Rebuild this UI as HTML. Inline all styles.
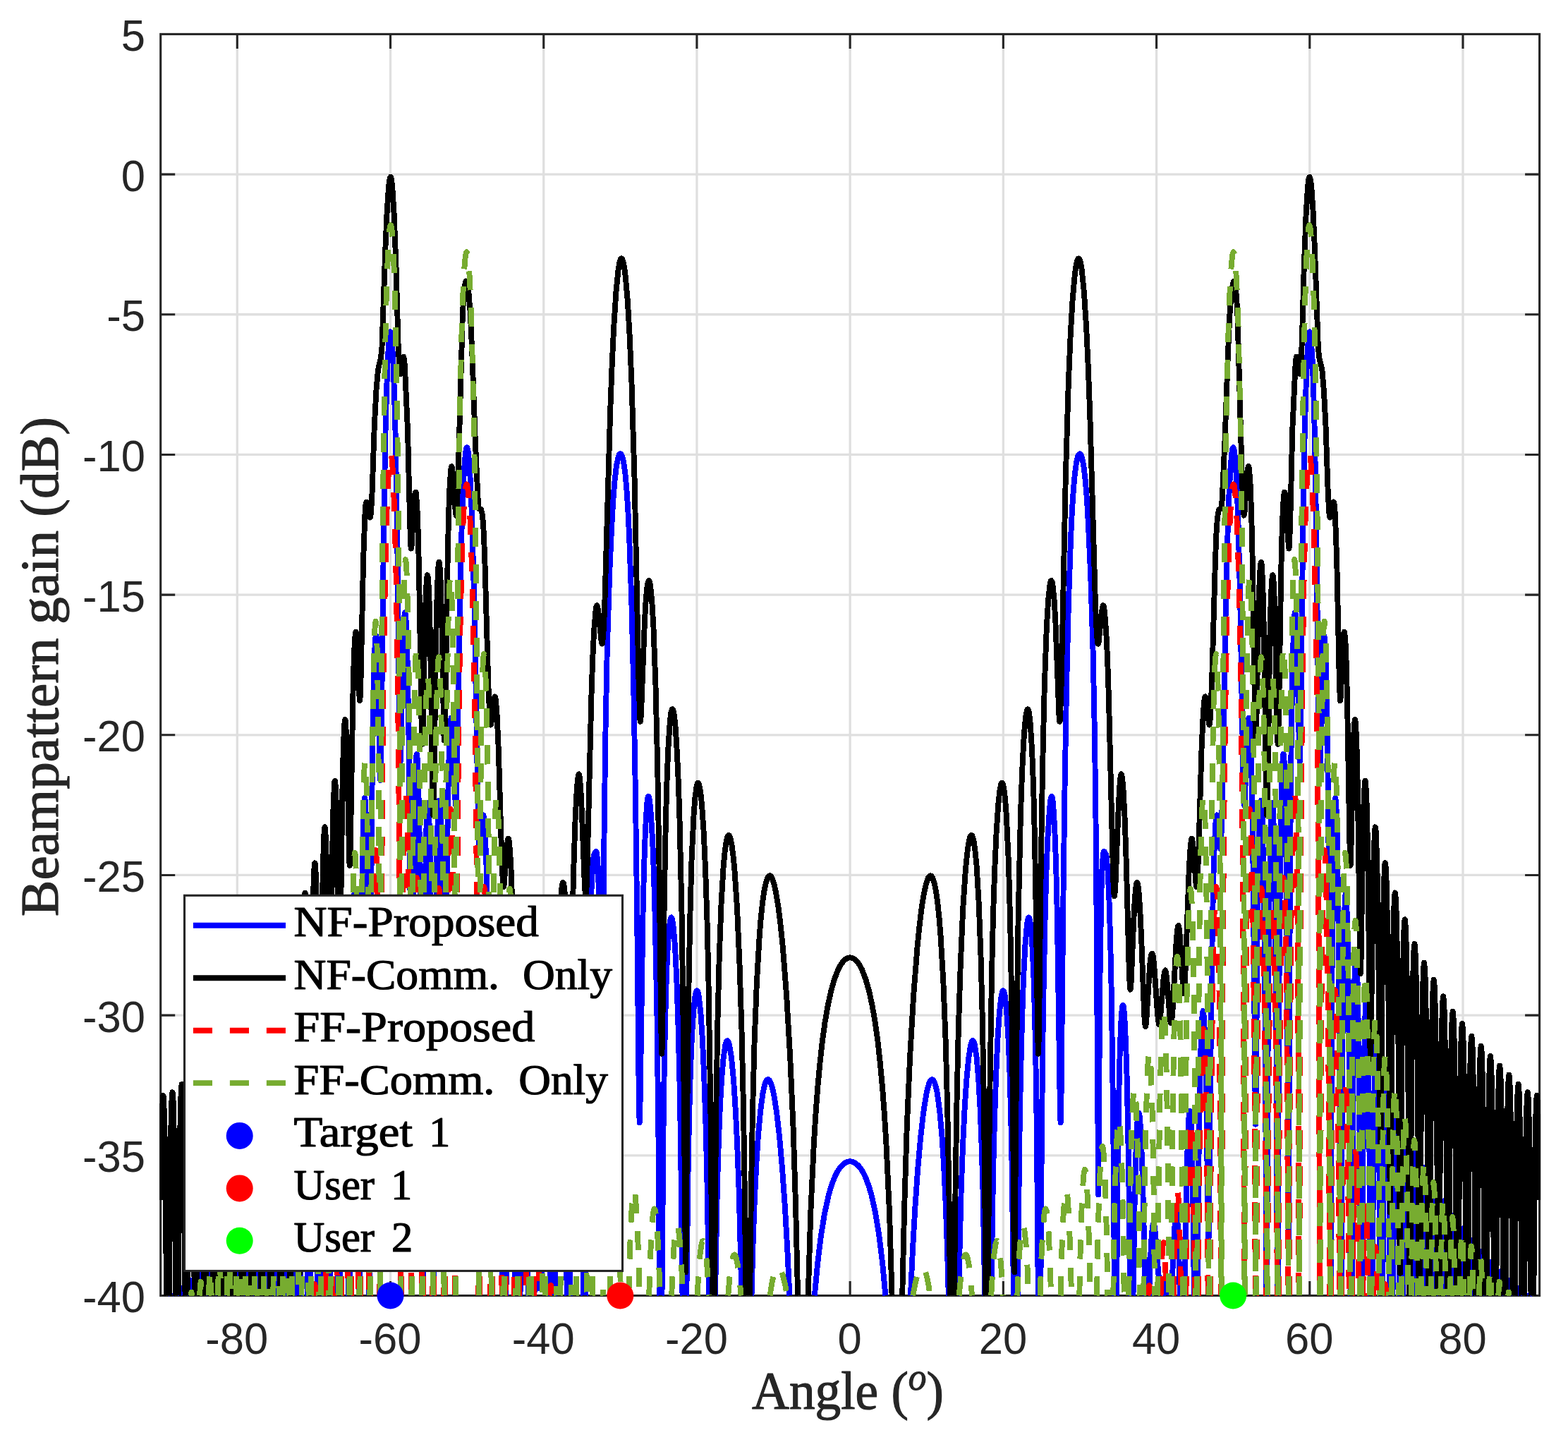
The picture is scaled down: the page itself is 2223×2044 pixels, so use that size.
<!DOCTYPE html>
<html lang="en"><head><meta charset="utf-8"><title>Beampattern gain</title>
<style>html,body{margin:0;padding:0;background:#fff}svg{display:block}</style></head><body>
<svg width="2223" height="2044" viewBox="0 0 2223 2044">
<rect x="0" y="0" width="2223" height="2044" fill="#fff"/>
<path d="M336.31 48.40V1836.50M553.52 48.40V1836.50M770.73 48.40V1836.50M987.94 48.40V1836.50M1205.15 48.40V1836.50M1422.36 48.40V1836.50M1639.57 48.40V1836.50M1856.78 48.40V1836.50M2073.99 48.40V1836.50M227.70 247.08H2182.60M227.70 445.76H2182.60M227.70 644.43H2182.60M227.70 843.11H2182.60M227.70 1041.79H2182.60M227.70 1240.47H2182.60M227.70 1439.14H2182.60M227.70 1637.82H2182.60" stroke="#dfdfdf" stroke-width="3.3" fill="none"/>
<path d="M336.31 1836.50v-20.5M336.31 48.40v20.5M553.52 1836.50v-20.5M553.52 48.40v20.5M770.73 1836.50v-20.5M770.73 48.40v20.5M987.94 1836.50v-20.5M987.94 48.40v20.5M1205.15 1836.50v-20.5M1205.15 48.40v20.5M1422.36 1836.50v-20.5M1422.36 48.40v20.5M1639.57 1836.50v-20.5M1639.57 48.40v20.5M1856.78 1836.50v-20.5M1856.78 48.40v20.5M2073.99 1836.50v-20.5M2073.99 48.40v20.5M227.70 247.08h20.5M2182.60 247.08h-20.5M227.70 445.76h20.5M2182.60 445.76h-20.5M227.70 644.43h20.5M2182.60 644.43h-20.5M227.70 843.11h20.5M2182.60 843.11h-20.5M227.70 1041.79h20.5M2182.60 1041.79h-20.5M227.70 1240.47h20.5M2182.60 1240.47h-20.5M227.70 1439.14h20.5M2182.60 1439.14h-20.5M227.70 1637.82h20.5M2182.60 1637.82h-20.5" stroke="#262626" stroke-width="3.1" fill="none"/>
<rect x="227.70" y="48.40" width="1954.90" height="1788.10" fill="none" stroke="#262626" stroke-width="3.1"/>
<clipPath id="c"><rect x="226.20" y="46.90" width="1957.90" height="1791.10"/></clipPath>
<g clip-path="url(#c)" fill="none" stroke-linejoin="round" stroke-linecap="butt" shape-rendering="crispEdges">
<path stroke="#0000ff" stroke-width="7.9" d="M241.7 1836.5L241.9 1835.9L242.2 1836.5M254.1 1836.5L255.2 1825.4L255.7 1828.0L256.3 1836.5M267.0 1836.5L267.7 1820.4L268.4 1814.0L269.2 1818.9L270.0 1836.5M279.9 1836.5L280.8 1810.6L281.2 1804.3L281.8 1801.7L282.8 1811.3L283.6 1836.5M292.9 1836.5L293.9 1800.7L294.5 1791.6L295.0 1788.3L295.7 1791.8L296.2 1801.1L297.3 1836.5M305.9 1836.5L307.1 1791.0L307.7 1778.3L308.4 1773.8L309.0 1777.5L309.7 1789.5L310.9 1836.5M319.0 1836.5L320.3 1778.7L321.0 1764.3L321.8 1758.1L322.5 1762.9L323.2 1776.0L324.6 1836.5M332.2 1836.5L333.6 1766.6L334.4 1748.2L335.2 1741.0L336.1 1748.1L336.8 1766.5L338.3 1836.5M345.4 1836.5L346.9 1751.5L347.8 1729.5L348.7 1722.3L349.6 1729.3L350.4 1751.1L352.0 1836.5M358.6 1836.5L360.3 1736.8L361.3 1710.1L361.7 1704.2L362.3 1701.9L363.2 1711.6L364.1 1736.1L365.8 1836.5M372.0 1836.5L373.8 1718.7L374.8 1689.8L375.3 1681.9L375.8 1679.4L376.4 1682.4L376.9 1691.0L377.9 1721.4L379.6 1836.5M385.3 1836.5L387.2 1701.5L388.3 1666.6L388.9 1657.9L389.5 1654.6L390.1 1657.8L390.6 1666.5L391.7 1701.9L393.5 1836.5M398.8 1836.5L400.8 1680.7L402.0 1640.0L402.6 1630.9L403.2 1627.0L403.9 1630.8L404.4 1640.0L405.6 1681.4L407.5 1836.5M412.4 1836.5L414.4 1661.3L415.7 1612.2L416.3 1600.3L417.0 1596.2L417.7 1599.5L418.3 1610.7L419.6 1659.2L421.6 1836.5M426.0 1836.5L428.1 1638.1L429.5 1580.2L430.1 1567.0L430.9 1561.2L431.7 1565.6L432.4 1580.5L433.7 1634.3L434.8 1715.4L435.8 1836.5M439.7 1836.5L440.7 1708.2L442.0 1603.8L443.4 1543.1L444.2 1527.0L445.0 1521.1L445.8 1526.7L446.5 1542.8L448.0 1605.2L449.1 1704.8L450.1 1836.5M453.5 1836.5L454.6 1682.8L455.9 1570.2L457.4 1500.0L458.3 1480.7L459.1 1474.6L460.0 1481.3L460.8 1498.4L462.3 1570.1L463.5 1677.8L464.5 1836.5M467.5 1836.5L468.5 1665.4L469.9 1529.9L471.5 1448.9L472.4 1427.7L473.4 1419.3L473.9 1421.6L474.3 1427.0L475.2 1448.2L476.8 1533.6L478.0 1655.5L479.0 1836.5M481.5 1836.5L482.6 1628.6L484.0 1481.0L485.9 1383.4L486.8 1359.7L487.8 1352.0L488.8 1360.0L489.8 1385.1L491.5 1484.4L492.8 1638.5L493.7 1836.5M495.7 1836.5L496.7 1600.2L498.2 1419.5L500.2 1306.0L501.3 1276.7L501.8 1269.4L502.4 1266.9L502.9 1268.9L503.4 1275.0L504.5 1303.3L506.4 1418.8L507.7 1600.0L508.5 1836.5M510.0 1836.5L510.9 1544.6L512.5 1329.1L514.6 1183.0L515.8 1145.4L516.5 1134.8L517.1 1131.1L517.8 1134.2L518.3 1142.3L519.5 1180.0L521.4 1316.7L522.6 1515.8L523.4 1836.5M524.2 1836.5L525.0 1521.0L525.9 1304.8L527.5 1118.2L529.5 980.6L530.6 938.6L531.8 910.9L532.3 904.2L533.0 900.8L533.5 901.9L534.1 906.8L535.1 925.1L536.0 956.8L538.7 1094.1L539.2 1105.1L539.4 1106.0L539.6 1103.4L540.6 1050.0L543.9 763.9L546.3 619.8L548.1 553.1L549.8 507.8L551.7 479.7L552.5 473.0L553.5 470.4L554.4 472.4L555.4 479.8L557.2 508.3L558.9 553.7L560.6 615.0L563.1 754.1L566.3 1026.4L567.3 1076.9L567.5 1079.6L567.7 1079.1L568.2 1069.3L571.0 929.6L572.0 897.2L573.1 875.7L573.6 870.3L574.3 868.3L574.9 871.1L575.5 877.1L576.6 902.2L577.7 940.4L579.7 1055.8L581.3 1226.8L583.7 1767.7L585.3 1385.6L587.1 1187.2L588.4 1114.7L589.8 1076.4L590.6 1069.1L591.0 1068.7L591.4 1070.9L592.9 1099.8L595.0 1200.3L596.6 1359.9L597.7 1555.7L598.5 1836.5M599.5 1836.5L600.5 1525.1L602.0 1323.7L604.0 1188.0L605.3 1149.9L606.0 1140.8L606.6 1137.8L607.3 1140.6L607.9 1149.2L609.2 1185.3L611.4 1318.4L612.9 1511.4L614.3 1836.5M614.9 1836.5L616.0 1565.7L617.2 1381.3L618.8 1242.3L620.7 1159.4L621.9 1138.2L622.6 1134.7L623.2 1136.6L624.5 1157.3L625.7 1198.2L627.5 1306.9L629.8 1562.7L630.4 1593.7L633.7 1233.5L635.2 1130.2L636.8 1062.1L638.7 1023.7L639.6 1017.6L640.1 1017.9L640.6 1020.7L642.5 1050.2L645.4 1132.9L646.0 1141.0L646.3 1141.2L646.4 1140.8L646.7 1137.1L648.0 1090.1L652.1 850.2L654.6 748.3L656.4 698.8L658.1 664.3L660.0 642.4L660.9 636.5L661.9 634.4L662.4 634.9L663.0 636.5L664.0 642.2L665.9 664.6L667.9 702.5L669.8 757.2L672.8 875.0L677.3 1128.4L679.0 1191.1L679.7 1201.9L680.0 1203.0L680.5 1201.8L683.7 1162.0L684.7 1156.1L685.1 1155.5L685.6 1156.2L686.6 1162.7L687.4 1174.5L689.3 1219.4L691.1 1295.4L692.7 1395.4L696.8 1760.8L696.9 1762.8L697.0 1763.4L697.1 1762.6L697.5 1747.0L699.7 1580.1L701.3 1493.9L703.2 1444.3L704.2 1434.3L704.6 1433.0L705.1 1434.1L706.3 1446.1L707.4 1469.1L709.6 1554.6L711.3 1677.1L712.7 1836.5M717.4 1836.5L718.6 1724.9L720.0 1643.6L721.6 1593.1L722.5 1579.9L723.5 1574.8L723.9 1575.6L724.5 1579.2L725.4 1592.7L727.3 1644.0L729.0 1727.0L730.6 1836.5M737.4 1836.5L739.8 1749.3L741.2 1726.3L741.8 1721.3L742.6 1719.5L743.3 1721.2L744.0 1726.5L745.5 1747.0L749.4 1836.5M757.0 1836.5L758.5 1824.7L759.9 1819.3L760.5 1818.7L761.2 1819.2L763.6 1825.0L764.4 1826.1L765.3 1825.2L766.2 1821.6L767.9 1806.0L772.4 1747.7L773.7 1737.7L774.3 1735.2L774.9 1734.4L775.7 1736.0L776.5 1740.3L778.0 1758.1L779.5 1788.2L781.3 1836.5M786.5 1836.5L789.4 1707.9L791.5 1638.3L793.8 1591.7L794.8 1580.9L795.4 1578.2L795.9 1577.4L797.0 1581.5L798.1 1593.6L800.2 1641.8L802.0 1719.6L803.8 1836.5M807.8 1836.5L810.2 1654.1L812.5 1532.6L814.0 1485.2L815.4 1452.3L816.8 1432.3L817.5 1426.8L818.3 1424.8L819.1 1426.4L819.7 1430.9L821.1 1451.0L822.4 1484.2L823.6 1530.2L825.6 1653.5L827.2 1836.5M830.2 1836.5L832.1 1588.3L834.6 1405.8L836.1 1334.5L837.8 1276.3L839.7 1235.8L841.6 1213.8L842.3 1211.1L844.8 1206.9L845.7 1207.8L846.4 1211.6L847.8 1230.7L849.0 1266.7L850.9 1389.6L853.2 1693.5L856.4 1194.2L858.3 1044.9L860.7 923.7L864.2 812.4L867.1 748.6L869.3 708.9L871.6 680.3L874.1 659.4L876.7 647.2L878.0 644.3L879.4 643.2L880.7 644.0L881.9 646.2L884.2 655.3L886.4 671.0L888.3 692.5L890.2 720.5L892.0 757.6L895.3 850.9L898.2 971.4L900.8 1117.4L903.0 1282.2L905.7 1548.3L906.6 1591.5L907.0 1587.0L907.5 1567.0L911.4 1300.1L913.1 1227.9L915.1 1173.6L917.3 1138.2L918.4 1130.7L919.1 1128.9L919.6 1129.0L920.9 1134.2L922.3 1146.6L925.1 1190.5L926.9 1237.4L928.5 1292.7L931.4 1433.9L933.5 1615.3L935.0 1836.5M938.5 1836.5L940.4 1608.1L941.7 1516.5L943.2 1442.1L945.0 1380.4L947.1 1336.2L949.4 1309.3L950.6 1302.6L951.1 1301.1L951.8 1300.5L952.4 1301.2L953.1 1303.2L954.4 1311.0L956.9 1340.2L959.3 1387.4L961.4 1450.4L963.4 1529.3L965.0 1619.0L967.5 1836.5M973.3 1836.5L975.7 1651.4L977.2 1578.4L978.9 1518.0L981.0 1467.8L983.2 1433.1L985.5 1411.5L986.7 1406.2L987.4 1404.7L988.0 1404.3L988.7 1404.7L989.4 1406.1L990.7 1411.8L993.3 1434.4L995.8 1471.3L998.1 1522.8L1000.3 1587.3L1002.2 1660.4L1005.1 1836.5M1014.0 1836.5L1016.9 1682.4L1018.8 1620.6L1020.8 1569.8L1023.2 1527.9L1025.7 1498.9L1028.4 1481.0L1029.9 1476.5L1030.5 1475.5L1031.3 1475.1L1032.7 1476.7L1034.2 1481.5L1037.1 1500.2L1040.1 1531.7L1042.8 1573.6L1045.3 1625.1L1047.6 1686.2L1051.4 1836.5M1065.5 1836.5L1067.4 1767.4L1069.7 1704.2L1072.2 1652.1L1075.0 1608.5L1078.1 1574.9L1081.4 1550.1L1083.2 1541.5L1085.0 1535.1L1086.9 1531.4L1087.9 1530.4L1088.8 1530.1L1089.8 1530.4L1090.8 1531.3L1092.9 1535.3L1094.9 1541.8L1097.0 1550.9L1101.1 1576.7L1105.2 1612.7L1109.1 1657.2L1112.8 1709.8L1116.2 1768.7L1119.4 1836.5M1154.9 1836.5L1159.1 1791.1L1163.8 1752.5L1169.0 1720.3L1174.8 1693.9L1178.0 1683.0L1181.4 1673.4L1184.9 1665.1L1188.6 1658.4L1192.6 1653.1L1196.7 1649.3L1200.9 1646.9L1205.2 1646.2L1209.4 1646.9L1213.6 1649.3L1217.7 1653.1L1221.7 1658.4L1225.4 1665.1L1228.9 1673.4L1232.3 1683.0L1235.5 1693.9L1241.3 1720.3L1246.5 1752.5L1251.2 1791.1L1255.4 1836.5M1290.9 1836.5L1294.1 1768.7L1297.5 1709.8L1301.2 1657.2L1305.1 1612.7L1309.2 1576.7L1313.3 1550.9L1315.4 1541.8L1317.4 1535.3L1319.5 1531.3L1320.5 1530.4L1321.5 1530.1L1322.4 1530.4L1323.4 1531.4L1325.3 1535.1L1327.1 1541.5L1328.9 1550.1L1332.2 1574.9L1335.3 1608.5L1338.1 1652.1L1340.6 1704.2L1342.9 1767.4L1344.8 1836.5M1358.9 1836.5L1362.7 1686.2L1365.0 1625.1L1367.5 1573.6L1370.2 1531.7L1373.2 1500.2L1376.1 1481.5L1377.6 1476.7L1379.0 1475.1L1379.8 1475.5L1380.4 1476.5L1381.9 1481.0L1384.6 1498.9L1387.1 1527.9L1389.5 1569.8L1391.5 1620.6L1393.4 1682.4L1396.3 1836.5M1405.2 1836.5L1408.1 1660.4L1410.0 1587.3L1412.2 1522.8L1414.5 1471.3L1417.0 1434.4L1419.6 1411.8L1420.9 1406.1L1421.6 1404.7L1422.3 1404.3L1422.9 1404.7L1423.6 1406.2L1424.8 1411.5L1427.1 1433.1L1429.3 1467.8L1431.4 1518.0L1433.1 1578.4L1434.6 1651.4L1437.0 1836.5M1442.8 1836.5L1445.3 1619.0L1446.9 1529.3L1448.9 1450.4L1451.0 1387.4L1453.4 1340.2L1455.9 1311.0L1457.2 1303.2L1457.9 1301.2L1458.5 1300.5L1459.2 1301.1L1459.7 1302.6L1460.9 1309.3L1463.2 1336.2L1465.3 1380.4L1467.1 1442.1L1468.6 1516.5L1469.9 1608.1L1471.8 1836.5M1475.3 1836.5L1476.8 1615.3L1478.9 1433.9L1481.8 1292.7L1483.4 1237.4L1485.2 1190.5L1488.0 1146.6L1489.4 1134.2L1490.7 1129.0L1491.2 1128.9L1491.9 1130.7L1493.0 1138.2L1495.2 1173.6L1497.2 1227.9L1498.9 1300.1L1502.8 1567.0L1503.3 1587.0L1503.7 1591.5L1504.6 1548.3L1507.3 1282.2L1509.5 1117.4L1512.1 971.4L1515.0 850.9L1518.3 757.6L1520.1 720.5L1522.0 692.5L1523.9 671.0L1526.1 655.3L1528.4 646.2L1529.6 644.0L1530.9 643.2L1532.3 644.3L1533.6 647.2L1536.2 659.4L1538.7 680.3L1541.0 708.9L1543.2 748.6L1546.1 812.4L1549.6 923.7L1552.0 1044.9L1553.9 1194.2L1557.1 1693.5L1559.4 1389.6L1561.3 1266.7L1562.5 1230.7L1563.9 1211.6L1564.6 1207.8L1565.5 1206.9L1568.0 1211.1L1568.7 1213.8L1570.6 1235.8L1572.5 1276.3L1574.2 1334.5L1575.7 1405.8L1578.2 1588.3L1580.1 1836.5M1583.1 1836.5L1584.7 1653.5L1586.7 1530.2L1587.9 1484.2L1589.2 1451.0L1590.6 1430.9L1591.2 1426.4L1592.0 1424.8L1592.8 1426.8L1593.5 1432.3L1594.9 1452.3L1596.3 1485.2L1597.8 1532.6L1600.1 1654.1L1602.5 1836.5M1606.5 1836.5L1608.3 1719.6L1610.1 1641.8L1612.2 1593.6L1613.3 1581.5L1614.4 1577.4L1614.9 1578.2L1615.5 1580.9L1616.5 1591.7L1618.8 1638.3L1620.9 1707.9L1623.8 1836.5M1629.0 1836.5L1630.8 1788.2L1632.3 1758.1L1633.8 1740.3L1634.6 1736.0L1635.4 1734.4L1636.0 1735.2L1636.6 1737.7L1637.9 1747.7L1642.4 1806.0L1644.1 1821.6L1645.0 1825.2L1645.9 1826.1L1646.7 1825.0L1649.1 1819.2L1649.8 1818.7L1650.4 1819.3L1651.8 1824.7L1653.3 1836.5M1660.9 1836.5L1664.8 1747.0L1666.3 1726.5L1667.0 1721.2L1667.7 1719.5L1668.5 1721.3L1669.1 1726.3L1670.5 1749.3L1672.9 1836.5M1679.7 1836.5L1681.3 1727.0L1683.0 1644.0L1684.9 1592.7L1685.8 1579.2L1686.4 1575.6L1686.8 1574.8L1687.8 1579.9L1688.7 1593.1L1690.3 1643.6L1691.7 1724.9L1692.9 1836.5M1697.6 1836.5L1699.0 1677.1L1700.7 1554.6L1702.9 1469.1L1704.0 1446.1L1705.2 1434.1L1705.7 1433.0L1706.1 1434.3L1707.1 1444.3L1709.0 1493.9L1710.6 1580.1L1712.8 1747.0L1713.2 1762.6L1713.3 1763.4L1713.4 1762.8L1713.5 1760.8L1717.6 1395.4L1719.2 1295.4L1721.0 1219.4L1722.9 1174.5L1723.7 1162.7L1724.7 1156.2L1725.2 1155.5L1725.6 1156.1L1726.6 1162.0L1729.8 1201.8L1730.3 1203.0L1730.6 1201.9L1731.3 1191.1L1733.0 1128.4L1737.5 875.0L1740.5 757.2L1742.4 702.5L1744.4 664.6L1746.3 642.2L1747.3 636.5L1747.9 634.9L1748.4 634.4L1749.4 636.5L1750.3 642.4L1752.2 664.3L1753.9 698.8L1755.7 748.3L1758.2 850.2L1762.3 1090.1L1763.6 1137.1L1763.9 1140.8L1764.0 1141.2L1764.3 1141.0L1764.9 1132.9L1767.8 1050.2L1769.7 1020.7L1770.2 1017.9L1770.7 1017.6L1771.6 1023.7L1773.5 1062.1L1775.1 1130.2L1776.6 1233.5L1779.9 1593.7L1780.5 1562.7L1782.8 1306.9L1784.6 1198.2L1785.8 1157.3L1787.1 1136.6L1787.7 1134.7L1788.4 1138.2L1789.6 1159.4L1791.5 1242.3L1793.1 1381.3L1794.3 1565.7L1795.4 1836.5M1796.0 1836.5L1797.4 1511.4L1798.9 1318.4L1801.1 1185.3L1802.4 1149.2L1803.0 1140.6L1803.7 1137.8L1804.3 1140.8L1805.0 1149.9L1806.3 1188.0L1808.3 1323.7L1809.8 1525.1L1810.8 1836.5M1811.8 1836.5L1812.6 1555.7L1813.7 1359.9L1815.3 1200.3L1817.4 1099.8L1818.9 1070.9L1819.3 1068.7L1819.7 1069.1L1820.5 1076.4L1821.9 1114.7L1823.2 1187.2L1825.0 1385.6L1826.6 1767.7L1829.0 1226.8L1830.6 1055.8L1832.6 940.4L1833.7 902.2L1834.8 877.1L1835.4 871.1L1836.0 868.3L1836.7 870.3L1837.2 875.7L1838.3 897.2L1839.3 929.6L1842.1 1069.3L1842.6 1079.1L1842.8 1079.6L1843.0 1076.9L1844.0 1026.4L1847.2 754.1L1849.7 615.0L1851.4 553.7L1853.1 508.3L1854.9 479.8L1855.9 472.4L1856.8 470.4L1857.8 473.0L1858.6 479.7L1860.5 507.8L1862.2 553.1L1864.0 619.8L1866.4 763.9L1869.7 1050.0L1870.7 1103.4L1870.9 1106.0L1871.1 1105.1L1871.6 1094.1L1874.3 956.8L1875.2 925.1L1876.2 906.8L1876.8 901.9L1877.3 900.8L1878.0 904.2L1878.5 910.9L1879.7 938.6L1880.8 980.6L1882.8 1118.2L1884.4 1304.8L1885.3 1521.0L1886.1 1836.5M1886.9 1836.5L1887.7 1515.8L1888.9 1316.7L1890.8 1180.0L1892.0 1142.3L1892.5 1134.2L1893.2 1131.1L1893.8 1134.8L1894.5 1145.4L1895.7 1183.0L1897.8 1329.1L1899.4 1544.6L1900.3 1836.5M1901.8 1836.5L1902.6 1600.0L1903.9 1418.8L1905.8 1303.3L1906.9 1275.0L1907.4 1268.9L1907.9 1266.9L1908.5 1269.4L1909.0 1276.7L1910.1 1306.0L1912.1 1419.5L1913.6 1600.2L1914.6 1836.5M1916.6 1836.5L1917.5 1638.5L1918.8 1484.4L1920.5 1385.1L1921.5 1360.0L1922.5 1352.0L1923.5 1359.7L1924.4 1383.4L1926.3 1481.0L1927.7 1628.6L1928.8 1836.5M1931.3 1836.5L1932.3 1655.5L1933.5 1533.6L1935.1 1448.2L1936.0 1427.0L1936.4 1421.6L1936.9 1419.3L1937.9 1427.7L1938.8 1448.9L1940.4 1529.9L1941.8 1665.4L1942.8 1836.5M1945.8 1836.5L1946.8 1677.8L1948.0 1570.1L1949.5 1498.4L1950.3 1481.3L1951.2 1474.6L1952.0 1480.7L1952.9 1500.0L1954.4 1570.2L1955.7 1682.8L1956.8 1836.5M1960.2 1836.5L1961.2 1704.8L1962.3 1605.2L1963.8 1542.8L1964.5 1526.7L1965.3 1521.1L1966.1 1527.0L1966.9 1543.1L1968.3 1603.8L1969.6 1708.2L1970.6 1836.5M1974.5 1836.5L1975.5 1715.4L1976.6 1634.3L1977.9 1580.5L1978.6 1565.6L1979.4 1561.2L1980.2 1567.0L1980.8 1580.2L1982.2 1638.1L1984.3 1836.5M1988.7 1836.5L1990.7 1659.2L1992.0 1610.7L1992.6 1599.5L1993.3 1596.2L1994.0 1600.3L1994.6 1612.2L1995.9 1661.3L1997.9 1836.5M2002.8 1836.5L2004.7 1681.4L2005.9 1640.0L2006.4 1630.8L2007.1 1627.0L2007.7 1630.9L2008.3 1640.0L2009.5 1680.7L2011.5 1836.5M2016.8 1836.5L2018.6 1701.9L2019.7 1666.5L2020.2 1657.8L2020.8 1654.6L2021.4 1657.9L2022.0 1666.6L2023.1 1701.5L2025.0 1836.5M2030.7 1836.5L2032.4 1721.4L2033.4 1691.0L2033.9 1682.4L2034.5 1679.4L2035.0 1681.9L2035.5 1689.8L2036.5 1718.7L2038.3 1836.5M2044.5 1836.5L2046.2 1736.1L2047.1 1711.6L2048.0 1701.9L2048.6 1704.2L2049.0 1710.1L2050.0 1736.8L2051.7 1836.5M2058.3 1836.5L2059.9 1751.1L2060.7 1729.3L2061.6 1722.3L2062.5 1729.5L2063.4 1751.5L2064.9 1836.5M2072.0 1836.5L2073.5 1766.5L2074.2 1748.1L2075.1 1741.0L2075.9 1748.2L2076.7 1766.6L2078.1 1836.5M2085.7 1836.5L2087.1 1776.0L2087.8 1762.9L2088.5 1758.1L2089.3 1764.3L2090.0 1778.7L2091.3 1836.5M2099.4 1836.5L2100.6 1789.5L2101.3 1777.5L2101.9 1773.8L2102.6 1778.3L2103.2 1791.0L2104.4 1836.5M2113.0 1836.5L2114.1 1801.1L2114.6 1791.8L2115.3 1788.3L2115.8 1791.6L2116.4 1800.7L2117.4 1836.5M2126.7 1836.5L2127.5 1811.3L2128.5 1801.7L2129.1 1804.3L2129.5 1810.6L2130.4 1836.5M2140.3 1836.5L2141.1 1818.9L2141.9 1814.0L2142.6 1820.4L2143.3 1836.5M2154.0 1836.5L2154.6 1828.0L2155.1 1825.4L2156.2 1836.5M2168.1 1836.5L2168.4 1835.9L2168.6 1836.5"/>
<path stroke="#000000" stroke-width="7.9" d="M227.7 1700.9L228.7 1625.9L229.8 1576.4L231.0 1553.8L231.3 1552.7L231.6 1553.6L232.2 1559.8L233.2 1590.9L234.3 1651.3L236.0 1836.5M239.8 1836.5L240.7 1711.2L241.8 1624.5L243.1 1567.5L243.8 1553.6L244.5 1548.3L245.3 1554.2L245.9 1568.8L247.2 1627.7L249.2 1836.5M252.9 1836.5L253.9 1704.5L255.0 1615.9L256.3 1557.6L256.9 1543.1L257.7 1537.0L258.4 1542.3L259.1 1556.1L260.4 1613.3L261.6 1713.0L262.5 1836.5M266.0 1836.5L266.9 1707.9L268.1 1605.6L269.4 1545.6L270.2 1528.7L270.9 1523.5L271.7 1529.6L272.4 1547.5L273.7 1610.2L275.7 1836.5M279.1 1836.5L280.0 1701.7L281.2 1596.7L282.5 1534.7L283.3 1516.8L284.1 1510.6L284.8 1515.6L285.6 1532.3L286.9 1592.4L288.1 1695.8L289.0 1836.5M292.3 1836.5L293.2 1697.9L294.4 1588.9L295.8 1520.6L296.6 1503.0L297.3 1497.0L298.1 1502.2L298.8 1519.1L300.2 1586.4L301.4 1695.3L302.3 1836.5M305.5 1836.5L306.4 1683.6L307.6 1575.0L309.0 1506.6L309.8 1488.9L310.6 1482.8L311.4 1489.5L312.2 1507.8L313.6 1578.2L314.8 1691.2L315.7 1836.5M318.7 1836.5L319.7 1673.5L320.9 1563.7L322.3 1494.1L323.1 1475.7L323.9 1468.7L324.8 1476.1L325.6 1495.1L327.0 1566.8L328.2 1681.3L329.1 1836.5M331.9 1836.5L332.8 1678.8L334.1 1551.8L335.7 1475.9L336.4 1457.8L337.3 1451.1L338.2 1458.8L338.9 1477.8L340.4 1557.5L341.6 1677.4L342.5 1836.5M345.2 1836.5L346.2 1662.1L347.4 1543.6L348.9 1463.0L349.8 1441.1L350.6 1433.8L351.5 1440.8L352.4 1462.6L353.9 1544.0L355.1 1665.8L356.1 1836.5M358.5 1836.5L359.4 1663.2L360.7 1527.4L362.4 1440.5L363.2 1419.1L364.1 1412.3L365.0 1419.4L365.8 1441.3L367.4 1522.3L368.7 1657.3L369.7 1836.5M371.8 1836.5L372.9 1640.0L374.2 1505.2L375.8 1418.1L376.7 1396.2L377.6 1388.7L378.4 1395.1L379.3 1415.9L380.9 1502.1L382.2 1637.7L383.3 1836.5M385.2 1836.5L386.3 1639.2L387.7 1486.7L389.3 1396.9L390.2 1373.7L391.2 1364.5L391.7 1366.8L392.1 1372.6L393.0 1395.0L394.6 1484.1L395.9 1621.9L397.1 1836.5M398.7 1836.5L399.8 1615.8L401.1 1472.8L402.9 1373.0L403.9 1346.7L404.8 1338.0L405.4 1340.4L405.8 1346.1L406.7 1368.2L408.4 1464.0L409.7 1603.8L411.1 1836.5M412.1 1836.5L413.3 1611.2L414.6 1458.2L416.2 1353.2L417.1 1322.8L418.0 1306.7L418.5 1303.4L419.1 1305.1L420.0 1321.4L421.9 1405.6L423.2 1524.2L425.3 1804.7L425.7 1785.0L427.3 1534.7L428.6 1400.7L430.2 1307.0L431.1 1280.4L432.1 1266.6L432.4 1265.6L432.6 1265.9L433.1 1268.9L433.9 1284.8L435.7 1361.4L439.2 1718.7L439.7 1688.8L441.3 1469.6L442.6 1348.0L444.3 1260.9L445.1 1236.3L446.0 1224.6L446.4 1223.3L446.9 1225.1L447.7 1238.0L449.4 1299.2L450.8 1401.6L452.6 1599.0L453.2 1623.0L453.8 1586.8L456.6 1295.7L458.1 1219.4L459.6 1178.9L460.0 1174.1L460.6 1172.3L461.4 1178.9L463.2 1229.3L467.2 1512.1L467.9 1483.2L471.2 1203.7L472.6 1141.0L474.1 1109.7L474.5 1107.4L474.9 1106.7L475.6 1112.1L477.2 1148.7L478.6 1216.5L480.6 1356.0L481.5 1379.9L482.4 1345.8L485.5 1115.4L486.8 1059.6L488.1 1028.5L488.9 1020.9L489.3 1019.9L489.7 1020.9L491.1 1041.5L492.5 1089.1L495.0 1210.7L495.5 1224.9L495.8 1226.9L496.1 1225.1L497.0 1189.0L500.4 985.3L501.6 939.1L502.9 907.9L504.2 895.7L504.5 895.6L504.9 896.4L505.6 902.3L506.9 924.5L509.3 984.7L510.0 992.9L510.2 993.4L510.3 993.0L510.5 991.2L511.6 959.6L515.1 793.4L517.4 729.9L518.4 716.1L519.5 711.5L520.3 713.1L522.2 725.4L524.1 732.9L524.7 733.5L525.3 732.3L526.1 725.5L527.6 697.2L530.8 603.2L533.4 553.9L535.8 525.9L537.0 518.8L539.8 508.4L541.4 494.0L546.2 356.6L548.6 300.8L551.1 264.0L552.4 254.3L553.1 251.9L553.7 250.9L554.4 251.7L555.0 254.3L556.2 263.9L558.7 304.2L561.6 380.2L564.5 485.3L566.1 519.7L567.1 528.6L567.6 530.1L568.2 529.8L569.0 525.8L571.2 508.5L572.2 505.5L573.2 509.9L574.0 522.0L578.0 609.2L581.2 742.8L582.4 773.9L582.9 777.6L583.6 773.2L586.4 718.8L587.9 701.4L588.8 697.9L589.4 697.7L589.7 698.4L591.2 714.9L592.6 750.5L593.9 802.2L597.4 1016.6L598.4 1053.1L598.6 1054.8L598.9 1052.5L599.5 1037.2L602.1 903.1L603.8 842.1L604.7 825.0L605.5 816.4L606.0 815.2L606.5 816.6L607.4 825.5L608.7 855.0L610.0 906.0L613.2 1124.7L614.1 1155.4L615.1 1122.4L618.4 894.7L619.7 840.5L621.0 808.6L621.8 798.5L622.3 796.7L622.8 797.4L623.8 806.9L624.8 827.2L626.5 891.1L629.1 1031.0L629.6 1047.2L629.9 1049.6L630.1 1049.4L631.2 1010.6L634.8 783.9L636.2 726.4L637.6 688.3L639.2 665.2L640.0 661.4L640.4 661.0L640.8 661.9L642.5 675.6L645.8 726.8L646.7 730.7L647.5 725.9L649.4 679.3L655.8 448.2L657.1 423.8L658.4 408.2L659.8 399.9L660.6 398.6L661.4 399.2L662.6 403.8L664.7 417.6L666.9 445.8L669.3 500.1L673.9 627.1L677.7 709.3L678.8 720.3L679.7 721.7L681.3 721.6L682.0 722.1L683.4 727.1L684.7 738.7L685.9 757.1L687.5 799.9L692.3 969.7L694.4 1017.9L695.4 1026.6L695.8 1027.5L696.3 1026.3L699.9 993.9L700.7 989.4L701.4 987.5L702.2 988.6L703.0 993.0L704.5 1011.5L706.8 1062.8L711.2 1213.1L712.9 1251.3L713.7 1256.8L713.9 1257.0L714.1 1256.7L714.6 1254.6L719.0 1196.5L720.3 1189.2L720.7 1188.7L721.0 1189.0L721.5 1190.8L723.0 1205.5L724.6 1233.1L729.5 1371.7L731.3 1405.0L731.7 1407.9L732.2 1408.4L733.0 1403.0L737.6 1325.5L738.9 1313.8L739.4 1312.1L740.1 1312.6L741.3 1319.1L742.5 1332.3L747.8 1431.7L749.0 1445.9L750.1 1450.5L751.0 1448.3L751.9 1440.6L756.3 1385.0L757.3 1378.0L758.2 1375.5L758.9 1376.3L759.5 1378.8L761.0 1389.3L765.6 1446.4L766.6 1451.8L767.1 1452.3L767.6 1451.3L769.3 1436.3L774.1 1367.4L775.6 1355.4L776.4 1352.4L777.1 1351.6L777.9 1352.7L778.7 1355.8L780.1 1367.3L785.0 1445.6L785.8 1453.8L786.3 1455.2L786.7 1454.5L787.6 1446.5L788.5 1428.2L792.1 1331.0L794.1 1288.5L796.0 1261.7L797.1 1253.8L798.1 1250.9L798.5 1251.0L799.0 1251.9L799.8 1256.3L801.5 1274.5L803.2 1307.9L806.5 1389.1L807.3 1401.0L807.8 1402.7L808.1 1401.8L808.8 1392.0L809.7 1369.2L813.4 1227.5L815.6 1161.3L817.9 1117.0L819.1 1104.0L820.3 1097.9L820.7 1097.4L821.0 1097.7L821.8 1101.2L823.4 1120.4L825.1 1156.2L828.8 1252.6L829.9 1268.6L830.4 1270.3L830.8 1268.8L831.7 1255.5L832.6 1225.8L838.4 987.7L840.2 934.0L842.1 895.0L844.3 867.1L845.3 860.2L845.9 858.5L846.4 858.2L847.4 860.9L848.5 868.2L852.7 910.4L853.4 912.6L853.9 912.1L855.1 903.1L856.3 881.8L857.6 846.0L865.2 582.3L867.6 518.8L870.1 465.5L873.4 414.2L876.6 382.0L878.2 372.5L880.0 367.2L880.9 366.4L881.7 366.7L883.4 370.3L885.0 378.2L886.6 390.3L889.8 426.4L892.7 476.7L895.5 543.0L899.6 680.0L905.6 969.3L907.4 1020.0L907.7 1022.5L907.9 1022.8L908.1 1022.1L908.9 1012.8L913.9 881.6L915.7 850.1L917.6 831.2L918.6 825.4L919.8 823.0L920.4 823.3L920.9 824.6L922.0 829.8L924.2 851.1L926.4 887.5L929.5 972.0L932.2 1086.0L934.5 1227.2L937.2 1453.3L938.1 1492.8L938.3 1493.7L938.5 1490.8L939.1 1468.8L941.6 1288.4L943.3 1190.8L945.1 1117.9L947.2 1063.1L949.9 1021.4L951.3 1010.3L952.9 1005.3L953.6 1005.2L954.4 1006.7L956.0 1015.2L957.5 1029.6L959.0 1050.8L961.2 1094.1L963.3 1152.6L966.7 1302.2L968.9 1472.7L972.0 1803.4L972.6 1773.5L974.6 1545.8L976.1 1418.4L978.1 1308.7L980.4 1222.0L983.6 1154.1L985.3 1131.8L987.2 1117.1L988.2 1112.5L989.1 1110.1L989.6 1109.7L990.1 1109.8L991.1 1111.6L993.0 1121.5L995.0 1139.8L997.6 1178.2L1000.1 1232.6L1002.4 1301.6L1004.3 1381.4L1007.5 1581.4L1009.7 1836.5M1012.9 1836.5L1014.1 1678.8L1015.6 1550.6L1017.5 1444.5L1019.8 1354.6L1022.6 1280.2L1025.7 1227.7L1027.5 1208.6L1029.3 1194.8L1031.2 1186.7L1032.1 1184.6L1033.1 1183.9L1034.1 1184.6L1035.2 1187.0L1037.2 1196.1L1039.3 1211.3L1041.3 1231.4L1045.1 1288.4L1048.5 1366.2L1051.5 1459.7L1053.9 1566.2L1055.8 1689.2L1057.4 1836.5M1063.2 1836.5L1064.8 1696.9L1067.0 1575.4L1069.6 1476.6L1072.9 1392.5L1076.7 1327.1L1078.7 1301.6L1081.0 1279.8L1083.4 1262.9L1085.9 1250.9L1088.5 1243.6L1089.8 1241.8L1091.2 1241.2L1092.7 1242.0L1094.3 1244.1L1097.3 1252.6L1100.3 1266.3L1103.5 1285.9L1106.5 1310.2L1109.6 1340.1L1115.2 1412.1L1120.2 1498.4L1124.6 1598.7L1128.1 1710.0L1131.1 1836.5M1145.7 1836.5L1149.3 1718.5L1153.8 1622.1L1156.4 1579.8L1159.2 1542.1L1162.4 1507.5L1165.8 1476.4L1169.6 1448.8L1173.7 1425.4L1178.1 1405.0L1182.9 1388.2L1188.1 1374.7L1190.8 1369.4L1193.5 1365.2L1196.4 1361.8L1199.3 1359.3L1202.2 1357.8L1205.2 1357.3L1208.1 1357.8L1211.0 1359.3L1213.9 1361.8L1216.8 1365.2L1219.5 1369.4L1222.2 1374.7L1227.4 1388.2L1232.2 1405.0L1236.6 1425.4L1240.7 1448.8L1244.5 1476.4L1247.9 1507.5L1251.1 1542.1L1253.9 1579.8L1256.5 1622.1L1261.0 1718.5L1264.6 1836.5M1279.2 1836.5L1282.2 1710.0L1285.7 1598.7L1290.1 1498.4L1295.1 1412.1L1300.7 1340.1L1303.8 1310.2L1306.8 1285.9L1310.0 1266.3L1313.0 1252.6L1316.0 1244.1L1317.6 1242.0L1319.1 1241.2L1320.5 1241.8L1321.8 1243.6L1324.4 1250.9L1326.9 1262.9L1329.3 1279.8L1331.6 1301.6L1333.6 1327.1L1337.4 1392.5L1340.7 1476.6L1343.3 1575.4L1345.5 1696.9L1347.1 1836.5M1352.9 1836.5L1354.5 1689.2L1356.4 1566.2L1358.8 1459.7L1361.8 1366.2L1365.2 1288.4L1369.0 1231.4L1371.0 1211.3L1373.1 1196.1L1375.1 1187.0L1376.2 1184.6L1377.2 1183.9L1378.2 1184.6L1379.1 1186.7L1381.0 1194.8L1382.8 1208.6L1384.6 1227.7L1387.7 1280.2L1390.5 1354.6L1392.8 1444.5L1394.7 1550.6L1396.2 1678.8L1397.4 1836.5M1400.6 1836.5L1402.8 1581.4L1406.0 1381.4L1407.9 1301.6L1410.2 1232.6L1412.7 1178.2L1415.3 1139.8L1417.3 1121.5L1419.2 1111.6L1420.2 1109.8L1420.7 1109.7L1421.2 1110.1L1422.1 1112.5L1423.1 1117.1L1425.0 1131.8L1426.7 1154.1L1429.9 1222.0L1432.2 1308.7L1434.2 1418.4L1435.7 1545.8L1437.7 1773.5L1438.3 1803.4L1441.4 1472.7L1443.6 1302.2L1447.0 1152.6L1449.1 1094.1L1451.3 1050.8L1452.8 1029.6L1454.3 1015.2L1455.9 1006.7L1456.7 1005.2L1457.4 1005.3L1459.0 1010.3L1460.4 1021.4L1463.1 1063.1L1465.2 1117.9L1467.0 1190.8L1468.7 1288.4L1471.2 1468.8L1471.8 1490.8L1472.0 1493.7L1472.2 1492.8L1473.1 1453.3L1475.8 1227.2L1478.1 1086.0L1480.8 972.0L1483.9 887.5L1486.1 851.1L1488.3 829.8L1489.4 824.6L1489.9 823.3L1490.5 823.0L1491.7 825.4L1492.7 831.2L1494.6 850.1L1496.4 881.6L1501.4 1012.8L1502.2 1022.1L1502.4 1022.8L1502.6 1022.5L1502.9 1020.0L1504.7 969.3L1510.7 680.0L1514.8 543.0L1517.6 476.7L1520.5 426.4L1523.7 390.3L1525.3 378.2L1526.9 370.3L1528.6 366.7L1529.4 366.4L1530.3 367.2L1532.1 372.5L1533.7 382.0L1536.9 414.2L1540.2 465.5L1542.7 518.8L1545.1 582.3L1552.7 846.0L1554.0 881.8L1555.2 903.1L1556.4 912.1L1556.9 912.6L1557.6 910.4L1561.8 868.2L1562.9 860.9L1563.9 858.2L1564.4 858.5L1565.0 860.2L1566.0 867.1L1568.2 895.0L1570.1 934.0L1571.9 987.7L1577.7 1225.8L1578.6 1255.5L1579.5 1268.8L1579.9 1270.3L1580.4 1268.6L1581.5 1252.6L1585.2 1156.2L1586.9 1120.4L1588.5 1101.2L1589.3 1097.7L1589.6 1097.4L1590.0 1097.9L1591.2 1104.0L1592.4 1117.0L1594.7 1161.3L1596.9 1227.5L1600.6 1369.2L1601.5 1392.0L1602.2 1401.8L1602.5 1402.7L1603.0 1401.0L1603.8 1389.1L1607.1 1307.9L1608.8 1274.5L1610.5 1256.3L1611.3 1251.9L1611.8 1251.0L1612.2 1250.9L1613.2 1253.8L1614.3 1261.7L1616.2 1288.5L1618.2 1331.0L1621.8 1428.2L1622.7 1446.5L1623.6 1454.5L1624.0 1455.2L1624.5 1453.8L1625.3 1445.6L1630.2 1367.3L1631.6 1355.8L1632.4 1352.7L1633.2 1351.6L1633.9 1352.4L1634.7 1355.4L1636.2 1367.4L1641.0 1436.3L1642.7 1451.3L1643.2 1452.3L1643.7 1451.8L1644.7 1446.4L1649.3 1389.3L1650.8 1378.8L1651.4 1376.3L1652.1 1375.5L1653.0 1378.0L1654.0 1385.0L1658.4 1440.6L1659.3 1448.3L1660.2 1450.5L1661.3 1445.9L1662.5 1431.7L1667.8 1332.3L1669.0 1319.1L1670.2 1312.6L1670.9 1312.1L1671.4 1313.8L1672.7 1325.5L1677.3 1403.0L1678.1 1408.4L1678.6 1407.9L1679.0 1405.0L1680.8 1371.7L1685.7 1233.1L1687.3 1205.5L1688.8 1190.8L1689.3 1189.0L1689.6 1188.7L1690.0 1189.2L1691.3 1196.5L1695.7 1254.6L1696.2 1256.7L1696.4 1257.0L1696.6 1256.8L1697.4 1251.3L1699.1 1213.1L1703.5 1062.8L1705.8 1011.5L1707.3 993.0L1708.1 988.6L1708.9 987.5L1709.6 989.4L1710.4 993.9L1714.0 1026.3L1714.5 1027.5L1714.9 1026.6L1715.9 1017.9L1718.0 969.7L1722.8 799.9L1724.4 757.1L1725.6 738.7L1726.9 727.1L1728.3 722.1L1729.0 721.6L1730.6 721.7L1731.5 720.3L1732.6 709.3L1736.4 627.1L1741.0 500.1L1743.4 445.8L1745.6 417.6L1747.7 403.8L1748.9 399.2L1749.7 398.6L1750.5 399.9L1751.9 408.2L1753.2 423.8L1754.5 448.2L1760.9 679.3L1762.8 725.9L1763.6 730.7L1764.5 726.8L1767.8 675.6L1769.5 661.9L1769.9 661.0L1770.3 661.4L1771.1 665.2L1772.7 688.3L1774.1 726.4L1775.5 783.9L1779.1 1010.6L1780.2 1049.4L1780.4 1049.6L1780.7 1047.2L1781.2 1031.0L1783.8 891.1L1785.5 827.2L1786.5 806.9L1787.5 797.4L1788.0 796.7L1788.5 798.5L1789.3 808.6L1790.6 840.5L1791.9 894.7L1795.2 1122.4L1796.2 1155.4L1797.1 1124.7L1800.3 906.0L1801.6 855.0L1802.9 825.5L1803.8 816.6L1804.3 815.2L1804.8 816.4L1805.6 825.0L1806.5 842.1L1808.2 903.1L1810.8 1037.2L1811.4 1052.5L1811.7 1054.8L1811.9 1053.1L1812.9 1016.6L1816.4 802.2L1817.7 750.5L1819.1 714.9L1820.6 698.4L1820.9 697.7L1821.5 697.9L1822.4 701.4L1823.9 718.8L1826.7 773.2L1827.4 777.6L1827.9 773.9L1829.1 742.8L1832.3 609.2L1836.3 522.0L1837.1 509.9L1838.1 505.5L1839.1 508.5L1841.3 525.8L1842.1 529.8L1842.7 530.1L1843.2 528.6L1844.2 519.7L1845.8 485.3L1848.7 380.2L1851.6 304.2L1854.1 263.9L1855.3 254.3L1855.9 251.7L1856.6 250.9L1857.2 251.9L1857.9 254.3L1859.2 264.0L1861.7 300.8L1864.1 356.6L1868.9 494.0L1870.5 508.4L1873.3 518.8L1874.5 525.9L1876.9 553.9L1879.5 603.2L1882.7 697.2L1884.2 725.5L1885.0 732.3L1885.6 733.5L1886.2 732.9L1888.1 725.4L1890.0 713.1L1890.8 711.5L1891.9 716.1L1892.9 729.9L1895.2 793.4L1898.7 959.6L1899.8 991.2L1900.0 993.0L1900.1 993.4L1900.3 992.9L1901.0 984.7L1903.4 924.5L1904.7 902.3L1905.4 896.4L1905.8 895.6L1906.1 895.7L1907.4 907.9L1908.7 939.1L1909.9 985.3L1913.3 1189.0L1914.2 1225.1L1914.5 1226.9L1914.8 1224.9L1915.3 1210.7L1917.8 1089.1L1919.2 1041.5L1920.6 1020.9L1921.0 1019.9L1921.4 1020.9L1922.2 1028.5L1923.5 1059.6L1924.8 1115.4L1927.9 1345.8L1928.8 1379.9L1929.7 1356.0L1931.7 1216.5L1933.1 1148.7L1934.7 1112.1L1935.4 1106.7L1935.8 1107.4L1936.2 1109.7L1937.7 1141.0L1939.1 1203.7L1942.4 1483.2L1943.1 1512.1L1947.1 1229.3L1948.9 1178.9L1949.7 1172.3L1950.3 1174.1L1950.7 1178.9L1952.2 1219.4L1953.7 1295.7L1956.5 1586.8L1957.1 1623.0L1957.7 1599.0L1959.5 1401.6L1960.9 1299.2L1962.6 1238.0L1963.4 1225.1L1963.9 1223.3L1964.3 1224.6L1965.2 1236.3L1966.0 1260.9L1967.7 1348.0L1969.0 1469.6L1970.6 1688.8L1971.1 1718.7L1974.6 1361.4L1976.4 1284.8L1977.2 1268.9L1977.7 1265.9L1977.9 1265.6L1978.2 1266.6L1979.2 1280.4L1980.1 1307.0L1981.7 1400.7L1983.0 1534.7L1984.6 1785.0L1985.0 1804.7L1987.1 1524.2L1988.4 1405.6L1990.3 1321.4L1991.2 1305.1L1991.8 1303.4L1992.3 1306.7L1993.2 1322.8L1994.1 1353.2L1995.7 1458.2L1997.0 1611.2L1998.2 1836.5M1999.2 1836.5L2000.6 1603.8L2001.9 1464.0L2003.6 1368.2L2004.5 1346.1L2004.9 1340.4L2005.5 1338.0L2006.4 1346.7L2007.4 1373.0L2009.2 1472.8L2010.5 1615.8L2011.6 1836.5M2013.2 1836.5L2014.4 1621.9L2015.7 1484.1L2017.3 1395.0L2018.2 1372.6L2018.6 1366.8L2019.1 1364.5L2020.1 1373.7L2021.0 1396.9L2022.6 1486.7L2024.0 1639.2L2025.1 1836.5M2027.0 1836.5L2028.1 1637.7L2029.4 1502.1L2031.0 1415.9L2031.9 1395.1L2032.7 1388.7L2033.6 1396.2L2034.5 1418.1L2036.1 1505.2L2037.4 1640.0L2038.5 1836.5M2040.6 1836.5L2041.6 1657.3L2042.9 1522.3L2044.5 1441.3L2045.3 1419.4L2046.2 1412.3L2047.1 1419.1L2047.9 1440.5L2049.6 1527.4L2050.9 1663.2L2051.8 1836.5M2054.2 1836.5L2055.2 1665.8L2056.4 1544.0L2057.9 1462.6L2058.8 1440.8L2059.7 1433.8L2060.5 1441.1L2061.4 1463.0L2062.9 1543.6L2064.1 1662.1L2065.1 1836.5M2067.8 1836.5L2068.7 1677.4L2069.9 1557.5L2071.4 1477.8L2072.1 1458.8L2073.0 1451.1L2073.9 1457.8L2074.6 1475.9L2076.2 1551.8L2077.5 1678.8L2078.4 1836.5M2081.2 1836.5L2082.1 1681.3L2083.3 1566.8L2084.7 1495.1L2085.5 1476.1L2086.4 1468.7L2087.2 1475.7L2088.0 1494.1L2089.4 1563.7L2090.6 1673.5L2091.6 1836.5M2094.6 1836.5L2095.5 1691.2L2096.7 1578.2L2098.1 1507.8L2098.9 1489.5L2099.7 1482.8L2100.5 1488.9L2101.3 1506.6L2102.7 1575.0L2103.9 1683.6L2104.8 1836.5M2108.0 1836.5L2108.9 1695.3L2110.1 1586.4L2111.5 1519.1L2112.2 1502.2L2113.0 1497.0L2113.7 1503.0L2114.5 1520.6L2115.9 1588.9L2117.1 1697.9L2118.0 1836.5M2121.3 1836.5L2122.2 1695.8L2123.4 1592.4L2124.7 1532.3L2125.5 1515.6L2126.2 1510.6L2127.0 1516.8L2127.8 1534.7L2129.1 1596.7L2130.3 1701.7L2131.2 1836.5M2134.6 1836.5L2136.6 1610.2L2137.9 1547.5L2138.6 1529.6L2139.4 1523.5L2140.1 1528.7L2140.9 1545.6L2142.2 1605.6L2143.4 1707.9L2144.3 1836.5M2147.8 1836.5L2148.7 1713.0L2149.9 1613.3L2151.2 1556.1L2151.9 1542.3L2152.6 1537.0L2153.4 1543.1L2154.0 1557.6L2155.3 1615.9L2156.4 1704.5L2157.4 1836.5M2161.1 1836.5L2163.1 1627.7L2164.4 1568.8L2165.0 1554.2L2165.8 1548.3L2166.5 1553.6L2167.2 1567.5L2168.5 1624.5L2169.6 1711.2L2170.5 1836.5M2174.3 1836.5L2176.0 1651.3L2177.1 1590.9L2178.1 1559.8L2178.7 1553.6L2179.0 1552.7L2179.3 1553.8L2180.5 1576.4L2181.6 1625.9L2182.6 1700.9"/>
<path stroke="#ff0000" stroke-width="7.9" stroke-dasharray="27.1 24.87" d="M445.0 1836.5L445.8 1823.5L446.4 1820.2L447.1 1824.4L447.7 1836.5M457.6 1836.5L458.9 1785.8L459.6 1772.9L460.3 1767.4L461.1 1771.9L461.7 1784.2L463.1 1836.5M470.7 1836.5L472.5 1738.5L473.5 1713.3L474.5 1704.9L475.4 1713.0L476.4 1738.8L478.1 1836.5M484.1 1836.5L486.2 1683.1L487.4 1643.3L488.0 1632.5L488.7 1628.9L489.3 1632.4L489.9 1641.1L491.1 1680.5L493.1 1836.5M497.6 1836.5L498.7 1711.2L500.0 1614.5L501.5 1553.0L502.3 1538.1L503.0 1532.7L503.8 1537.0L504.5 1551.5L505.9 1610.7L507.1 1707.9L508.1 1836.5M511.3 1836.5L512.5 1655.2L514.0 1516.3L515.7 1432.8L516.7 1410.2L517.2 1404.4L517.7 1403.2L518.7 1411.9L519.5 1434.4L521.0 1517.6L522.2 1648.7L523.1 1836.5M525.2 1836.5L526.4 1571.0L528.0 1379.5L530.2 1250.7L531.4 1216.8L532.0 1207.6L532.6 1204.9L533.1 1207.0L533.6 1214.2L534.7 1246.3L536.5 1371.7L537.6 1552.7L538.3 1836.5M539.3 1836.5L540.7 1333.2L542.0 1131.9L543.6 971.2L545.8 830.5L548.3 728.0L551.0 665.5L552.4 649.5L553.2 645.2L554.0 643.9L554.7 645.6L555.4 649.5L556.8 665.6L559.5 729.6L561.9 830.8L563.9 969.9L565.5 1128.0L566.7 1325.2L568.0 1836.5M568.8 1836.5L569.6 1505.2L570.8 1300.8L572.6 1166.2L573.8 1129.7L574.4 1121.9L575.0 1118.6L575.7 1121.6L576.4 1132.8L577.7 1172.0L580.0 1317.7L581.6 1536.7L582.7 1836.5M584.2 1836.5L585.0 1595.4L586.4 1403.9L588.4 1284.3L589.5 1254.8L590.0 1247.4L590.7 1244.3L591.3 1247.4L591.9 1254.7L593.0 1286.4L595.1 1405.3L596.6 1585.1L597.7 1836.5M599.6 1836.5L600.5 1608.2L602.1 1430.1L604.0 1321.8L605.1 1294.2L605.6 1287.2L606.3 1284.4L607.0 1287.5L607.5 1294.8L608.6 1322.8L610.5 1430.3L612.1 1603.4L613.1 1836.5M615.0 1836.5L616.1 1596.6L617.6 1419.7L619.7 1302.4L620.9 1270.5L621.5 1261.8L622.2 1259.0L622.8 1261.9L623.4 1268.9L624.5 1300.0L626.5 1413.0L627.9 1584.7L628.9 1836.5M630.6 1836.5L631.6 1559.8L633.3 1340.1L635.7 1198.2L637.1 1159.4L637.9 1149.4L638.6 1146.7L639.2 1149.5L639.9 1158.1L641.1 1191.2L643.1 1327.3L644.4 1530.0L645.2 1836.5M646.3 1836.5L647.7 1349.6L649.0 1156.9L650.7 996.2L652.9 866.4L655.5 768.3L656.9 733.4L658.4 707.3L660.0 691.9L660.7 688.0L661.6 686.5L662.3 687.7L663.2 691.9L664.8 708.4L666.4 733.9L667.9 770.2L670.7 870.9L673.2 1010.1L675.2 1175.7L676.6 1359.3L677.5 1563.1L678.3 1836.5M679.6 1836.5L680.5 1578.2L681.8 1407.5L683.7 1294.6L684.9 1265.7L685.5 1259.4L686.1 1256.7L686.8 1258.9L687.5 1267.5L688.9 1300.3L691.4 1419.9L693.4 1601.2L694.7 1836.5M697.7 1836.5L698.8 1670.7L700.2 1557.5L702.1 1483.1L703.1 1465.0L703.6 1460.0L704.2 1458.4L704.7 1459.9L705.3 1465.9L706.4 1486.0L708.5 1562.5L710.2 1680.2L711.6 1836.5M716.5 1836.5L717.6 1734.5L719.0 1655.0L720.7 1606.1L721.5 1593.7L722.4 1589.5L722.8 1590.3L723.4 1593.9L724.2 1605.9L726.0 1654.1L727.6 1735.1L728.9 1836.5M736.1 1836.5L737.3 1769.3L738.5 1724.2L739.8 1696.1L740.4 1688.9L741.2 1685.8L741.9 1688.2L742.7 1695.9L744.1 1725.3L746.6 1836.5M756.7 1836.5L758.6 1781.2L759.5 1766.7L760.6 1761.0L761.2 1762.0L761.7 1765.6L762.8 1780.6L764.8 1836.5M779.0 1836.5L780.0 1825.4L780.8 1822.0L781.3 1822.6L781.8 1825.4L782.8 1836.5M1627.5 1836.5L1628.5 1825.4L1629.0 1822.6L1629.5 1822.0L1630.3 1825.4L1631.3 1836.5M1645.5 1836.5L1647.5 1780.6L1648.6 1765.6L1649.1 1762.0L1649.7 1761.0L1650.8 1766.7L1651.7 1781.2L1653.6 1836.5M1663.7 1836.5L1666.2 1725.3L1667.6 1695.9L1668.4 1688.2L1669.1 1685.8L1669.9 1688.9L1670.5 1696.1L1671.8 1724.2L1673.0 1769.3L1674.2 1836.5M1681.4 1836.5L1682.7 1735.1L1684.3 1654.1L1686.1 1605.9L1686.9 1593.9L1687.5 1590.3L1687.9 1589.5L1688.8 1593.7L1689.6 1606.1L1691.3 1655.0L1692.7 1734.5L1693.8 1836.5M1698.7 1836.5L1700.1 1680.2L1701.8 1562.5L1703.9 1486.0L1705.0 1465.9L1705.6 1459.9L1706.1 1458.4L1706.7 1460.0L1707.2 1465.0L1708.2 1483.1L1710.1 1557.5L1711.5 1670.7L1712.6 1836.5M1715.6 1836.5L1716.9 1601.2L1718.9 1419.9L1721.4 1300.3L1722.8 1267.5L1723.5 1258.9L1724.2 1256.7L1724.8 1259.4L1725.4 1265.7L1726.6 1294.6L1728.5 1407.5L1729.8 1578.2L1730.7 1836.5M1732.0 1836.5L1732.8 1563.1L1733.7 1359.3L1735.1 1175.7L1737.1 1010.1L1739.6 870.9L1742.4 770.2L1743.9 733.9L1745.5 708.4L1747.1 691.9L1748.0 687.7L1748.7 686.5L1749.6 688.0L1750.3 691.9L1751.9 707.3L1753.4 733.4L1754.8 768.3L1757.4 866.4L1759.6 996.2L1761.3 1156.9L1762.6 1349.6L1764.0 1836.5M1765.1 1836.5L1765.9 1530.0L1767.2 1327.3L1769.2 1191.2L1770.4 1158.1L1771.1 1149.5L1771.7 1146.7L1772.4 1149.4L1773.2 1159.4L1774.6 1198.2L1777.0 1340.1L1778.7 1559.8L1779.7 1836.5M1781.4 1836.5L1782.4 1584.7L1783.8 1413.0L1785.8 1300.0L1786.9 1268.9L1787.5 1261.9L1788.1 1259.0L1788.8 1261.8L1789.4 1270.5L1790.6 1302.4L1792.7 1419.7L1794.2 1596.6L1795.3 1836.5M1797.2 1836.5L1798.2 1603.4L1799.8 1430.3L1801.7 1322.8L1802.8 1294.8L1803.3 1287.5L1804.0 1284.4L1804.7 1287.2L1805.2 1294.2L1806.3 1321.8L1808.2 1430.1L1809.8 1608.2L1810.7 1836.5M1812.6 1836.5L1813.7 1585.1L1815.2 1405.3L1817.3 1286.4L1818.4 1254.7L1819.0 1247.4L1819.6 1244.3L1820.3 1247.4L1820.8 1254.8L1821.9 1284.3L1823.9 1403.9L1825.3 1595.4L1826.1 1836.5M1827.6 1836.5L1828.7 1536.7L1830.3 1317.7L1832.6 1172.0L1833.9 1132.8L1834.6 1121.6L1835.3 1118.6L1835.9 1121.9L1836.5 1129.7L1837.7 1166.2L1839.5 1300.8L1840.7 1505.2L1841.5 1836.5M1842.3 1836.5L1843.6 1325.2L1844.8 1128.0L1846.4 969.9L1848.4 830.8L1850.8 729.6L1853.5 665.6L1854.9 649.5L1855.6 645.6L1856.3 643.9L1857.1 645.2L1857.9 649.5L1859.3 665.5L1862.0 728.0L1864.5 830.5L1866.7 971.2L1868.3 1131.9L1869.6 1333.2L1871.0 1836.5M1872.0 1836.5L1872.7 1552.7L1873.8 1371.7L1875.6 1246.3L1876.7 1214.2L1877.2 1207.0L1877.7 1204.9L1878.3 1207.6L1878.9 1216.8L1880.1 1250.7L1882.3 1379.5L1883.9 1571.0L1885.1 1836.5M1887.2 1836.5L1888.1 1648.7L1889.3 1517.6L1890.8 1434.4L1891.6 1411.9L1892.6 1403.2L1893.1 1404.4L1893.6 1410.2L1894.6 1432.8L1896.3 1516.3L1897.8 1655.2L1899.0 1836.5M1902.2 1836.5L1903.2 1707.9L1904.4 1610.7L1905.8 1551.5L1906.5 1537.0L1907.3 1532.7L1908.0 1538.1L1908.8 1553.0L1910.3 1614.5L1911.6 1711.2L1912.7 1836.5M1917.2 1836.5L1919.2 1680.5L1920.4 1641.1L1921.0 1632.4L1921.6 1628.9L1922.3 1632.5L1922.9 1643.3L1924.1 1683.1L1926.2 1836.5M1932.2 1836.5L1933.9 1738.8L1934.9 1713.0L1935.8 1704.9L1936.8 1713.3L1937.8 1738.5L1939.6 1836.5M1947.2 1836.5L1948.6 1784.2L1949.2 1771.9L1950.0 1767.4L1950.7 1772.9L1951.4 1785.8L1952.7 1836.5M1962.6 1836.5L1963.2 1824.4L1963.9 1820.2L1964.5 1823.5L1965.3 1836.5"/>
<path stroke="#77ac30" stroke-width="7.9" stroke-dasharray="27.1 24.87" d="M270.7 1836.5L271.4 1831.5L272.1 1836.5M283.2 1836.5L283.8 1822.3L284.6 1817.0L285.3 1821.4L286.0 1836.5M295.9 1836.5L296.9 1809.7L297.3 1803.7L297.9 1801.4L298.8 1811.7L299.7 1836.5M308.8 1836.5L309.9 1797.2L310.5 1788.0L311.1 1784.6L312.2 1797.2L313.3 1836.5M321.7 1836.5L322.9 1785.1L323.6 1771.6L324.4 1766.4L325.0 1770.7L325.7 1783.5L326.9 1836.5M334.7 1836.5L336.1 1770.5L336.8 1752.9L337.6 1746.7L338.4 1751.5L339.1 1767.7L340.6 1836.5M347.8 1836.5L349.3 1752.6L350.2 1731.5L351.1 1725.2L351.9 1733.2L352.8 1756.4L354.3 1836.5M360.9 1836.5L362.6 1734.9L363.5 1711.0L364.4 1701.8L365.4 1710.6L366.3 1734.5L368.0 1836.5M374.0 1836.5L375.8 1717.8L376.8 1687.6L377.4 1679.1L377.9 1676.1L378.4 1678.6L379.0 1686.7L380.0 1716.6L381.7 1836.5M387.3 1836.5L389.2 1697.1L390.3 1660.8L390.8 1651.6L391.5 1647.8L392.1 1651.8L392.7 1661.4L393.8 1698.9L395.6 1836.5M400.6 1836.5L402.7 1672.0L403.9 1630.1L404.4 1620.6L405.1 1616.4L405.7 1619.9L406.4 1631.4L407.6 1675.7L409.5 1836.5M414.0 1836.5L416.1 1647.5L417.4 1597.6L418.1 1585.5L418.7 1581.2L419.4 1584.6L420.0 1595.9L421.3 1645.2L422.4 1721.4L423.4 1836.5M427.5 1836.5L428.5 1708.6L429.7 1618.0L431.1 1560.1L431.8 1547.0L432.5 1541.5L433.3 1546.3L434.1 1562.0L435.4 1617.7L436.5 1713.0L437.5 1836.5M441.1 1836.5L442.1 1690.4L443.3 1589.4L444.8 1519.6L445.6 1502.7L446.4 1496.1L447.3 1502.8L448.1 1520.3L449.5 1586.8L450.7 1692.8L451.6 1836.5M454.7 1836.5L455.8 1666.4L457.1 1547.0L458.7 1468.7L459.6 1449.3L460.4 1443.3L461.3 1450.6L462.2 1471.8L463.7 1550.6L464.9 1669.3L465.8 1836.5M468.5 1836.5L469.5 1650.0L470.9 1503.4L472.6 1411.8L473.5 1389.7L474.5 1380.9L475.0 1383.0L475.4 1388.5L476.3 1410.0L477.9 1497.5L479.2 1639.8L480.2 1836.5M482.3 1836.5L483.4 1611.0L484.8 1449.0L486.6 1342.3L487.6 1315.4L488.1 1307.6L488.7 1304.9L489.2 1307.1L489.8 1314.4L490.7 1341.7L492.5 1449.0L493.8 1619.3L494.6 1836.5M496.3 1836.5L497.3 1578.9L498.8 1379.0L500.8 1250.5L501.9 1219.6L502.5 1211.7L503.1 1208.7L503.7 1211.5L504.2 1219.5L505.3 1252.6L507.1 1381.7L508.3 1563.6L509.2 1836.5M510.4 1836.5L511.4 1509.7L512.9 1284.3L515.1 1133.5L516.4 1092.1L517.0 1082.1L517.7 1079.0L518.3 1082.8L518.9 1091.6L520.1 1131.8L521.9 1278.3L523.1 1500.6L523.8 1836.5M524.6 1836.5L525.5 1432.8L527.0 1156.3L528.2 1038.2L529.5 955.4L531.0 899.7L531.8 885.7L532.6 880.6L533.3 884.8L534.0 896.6L535.2 942.4L537.0 1119.5L538.1 1405.9L538.6 1836.5M539.0 1836.5L540.0 1167.8L541.1 930.9L542.7 735.4L544.8 561.9L547.5 429.4L549.1 381.3L550.7 346.0L552.3 325.6L553.1 320.9L554.0 319.2L554.8 321.3L555.6 326.5L557.2 348.0L558.7 382.0L560.1 427.5L562.7 557.0L564.8 727.2L566.3 936.6L567.3 1176.1L568.2 1836.5M568.5 1836.5L569.0 1369.0L570.2 1047.3L571.1 940.8L572.2 861.7L573.5 811.3L574.3 797.5L575.0 793.1L575.8 797.3L576.6 812.2L578.2 866.1L579.6 955.2L580.8 1076.2L582.3 1373.8L583.1 1836.5M583.7 1836.5L584.4 1435.9L585.7 1161.3L586.6 1057.9L587.8 980.9L589.1 935.2L589.9 922.3L590.7 918.2L591.4 922.5L592.2 935.2L593.6 983.1L594.9 1062.6L596.0 1168.3L597.5 1455.7L598.3 1836.5M599.0 1836.5L599.8 1443.3L601.2 1187.6L602.3 1085.4L603.5 1015.9L604.9 971.1L605.5 961.3L606.3 957.5L607.1 961.9L607.7 972.3L609.1 1018.0L610.3 1087.8L611.4 1189.0L612.9 1468.3L613.7 1836.5M614.4 1836.5L615.2 1453.5L616.7 1176.8L617.8 1073.9L619.1 996.3L620.6 946.8L621.4 935.1L622.2 931.4L622.9 935.4L623.6 945.4L625.0 990.3L626.2 1060.3L627.3 1164.4L628.7 1434.0L629.4 1836.5M630.1 1836.5L630.8 1409.7L632.5 1100.2L633.7 984.0L635.2 892.0L636.8 837.4L637.7 823.1L638.6 818.3L639.4 823.4L640.2 836.5L641.6 887.3L642.8 968.3L643.8 1081.2L645.0 1372.3L645.6 1836.5M645.9 1836.5L647.0 1170.4L648.1 944.3L649.7 748.3L652.0 582.4L654.8 459.2L656.5 413.8L658.1 382.8L659.8 363.5L660.7 358.8L661.6 357.3L662.6 359.2L663.4 364.2L665.3 385.3L667.0 418.7L668.7 466.6L671.9 600.4L674.4 772.7L676.1 963.0L677.4 1202.8L678.7 1836.5M679.2 1836.5L679.8 1419.2L681.1 1148.6L682.1 1051.8L683.2 987.0L684.6 941.9L685.4 930.7L686.1 926.9L687.0 930.8L688.0 945.2L689.7 997.0L691.2 1074.7L692.6 1185.3L694.6 1467.1L695.6 1836.5M696.7 1836.5L697.6 1526.0L699.2 1310.3L701.3 1177.4L702.7 1140.2L703.4 1131.9L704.2 1128.5L704.9 1131.3L705.7 1140.3L707.2 1177.1L708.6 1236.8L709.9 1320.9L711.9 1540.8L713.1 1836.5M714.9 1836.5L716.0 1580.8L717.6 1407.0L718.7 1341.4L719.9 1295.4L721.2 1267.9L721.9 1261.5L722.5 1259.6L723.3 1262.7L723.9 1270.0L725.3 1301.0L727.8 1416.8L729.8 1599.8L731.1 1836.5M733.6 1836.5L734.8 1638.2L736.5 1483.2L738.7 1389.4L740.0 1363.9L740.6 1357.8L741.3 1355.9L742.1 1358.7L742.7 1365.4L744.0 1391.1L746.4 1488.7L748.2 1633.0L749.7 1836.5M753.1 1836.5L754.4 1659.8L756.2 1535.5L758.3 1457.2L759.5 1437.5L760.1 1433.0L760.7 1431.2L761.4 1433.0L762.0 1438.5L763.2 1458.5L765.6 1542.1L767.5 1664.3L769.0 1836.5M773.3 1836.5L774.7 1687.1L776.5 1582.1L778.5 1516.3L779.7 1498.2L780.3 1494.1L780.9 1492.3L781.6 1494.0L782.1 1498.0L783.3 1515.1L785.6 1584.2L787.6 1695.2L789.0 1836.5M794.4 1836.5L795.9 1709.8L797.7 1620.5L799.7 1563.4L800.8 1548.9L801.4 1545.1L802.0 1543.4L802.7 1544.8L803.2 1548.4L804.4 1563.9L806.6 1622.2L808.4 1711.2L810.0 1836.5M816.6 1836.5L818.1 1730.8L819.9 1650.5L822.0 1602.5L823.1 1590.7L823.6 1587.8L824.2 1586.9L824.8 1588.4L825.4 1591.8L826.4 1604.5L828.5 1652.3L830.5 1733.1L832.0 1836.5M839.9 1836.5L841.4 1748.7L843.3 1679.9L845.2 1639.5L846.3 1628.5L847.4 1624.7L847.9 1625.4L848.5 1627.8L849.6 1637.9L851.7 1680.5L853.6 1744.8L855.3 1836.5M864.7 1836.5L866.3 1761.1L868.1 1703.7L870.1 1669.8L871.2 1660.6L871.7 1658.4L872.3 1657.8L873.4 1661.0L874.3 1669.1L876.4 1703.4L878.4 1760.7L880.0 1836.5M891.3 1836.5L892.9 1774.1L894.8 1726.2L896.8 1696.4L897.8 1689.6L898.3 1687.7L898.9 1687.2L900.0 1689.9L900.9 1696.9L903.0 1726.0L905.0 1774.1L906.7 1836.5M920.2 1836.5L921.9 1783.4L923.8 1745.0L925.7 1721.6L926.7 1715.8L927.8 1713.5L928.3 1714.0L928.9 1715.5L929.8 1721.1L931.9 1744.5L933.9 1783.0L935.7 1836.5M952.2 1836.5L953.9 1793.6L955.8 1763.1L957.9 1743.5L958.8 1739.0L959.9 1737.2L961.0 1738.9L962.1 1744.0L964.2 1763.2L966.1 1793.9L968.0 1836.5M988.6 1836.5L990.5 1801.9L992.5 1778.2L994.6 1763.7L995.6 1759.9L996.7 1758.8L997.8 1760.2L998.9 1764.0L1001.1 1779.2L1003.1 1803.3L1005.1 1836.5M1032.3 1836.5L1034.4 1811.1L1036.6 1793.0L1038.9 1782.0L1040.0 1779.5L1041.2 1778.5L1042.4 1779.4L1043.5 1782.2L1045.9 1793.2L1048.3 1811.9L1050.6 1836.5M1091.6 1836.5L1094.3 1818.9L1097.1 1806.4L1100.0 1798.9L1101.5 1797.1L1103.1 1796.5L1104.6 1797.1L1106.2 1799.0L1109.5 1806.7L1112.7 1819.1L1116.0 1836.5M1294.3 1836.5L1297.6 1819.1L1300.8 1806.7L1304.1 1799.0L1305.7 1797.1L1307.2 1796.5L1308.8 1797.1L1310.3 1798.9L1313.2 1806.4L1316.0 1818.9L1318.7 1836.5M1359.7 1836.5L1362.0 1811.9L1364.4 1793.2L1366.8 1782.2L1367.9 1779.4L1369.1 1778.5L1370.3 1779.5L1371.4 1782.0L1373.7 1793.0L1375.9 1811.1L1378.0 1836.5M1405.2 1836.5L1407.2 1803.3L1409.2 1779.2L1411.4 1764.0L1412.5 1760.2L1413.6 1758.8L1414.7 1759.9L1415.7 1763.7L1417.8 1778.2L1419.8 1801.9L1421.7 1836.5M1442.3 1836.5L1444.2 1793.9L1446.1 1763.2L1448.2 1744.0L1449.3 1738.9L1450.4 1737.2L1451.5 1739.0L1452.4 1743.5L1454.5 1763.1L1456.4 1793.6L1458.1 1836.5M1474.6 1836.5L1476.4 1783.0L1478.4 1744.5L1480.5 1721.1L1481.4 1715.5L1482.0 1714.0L1482.5 1713.5L1483.6 1715.8L1484.6 1721.6L1486.5 1745.0L1488.4 1783.4L1490.1 1836.5M1503.6 1836.5L1505.3 1774.1L1507.3 1726.0L1509.4 1696.9L1510.3 1689.9L1511.4 1687.2L1512.0 1687.7L1512.5 1689.6L1513.5 1696.4L1515.5 1726.2L1517.4 1774.1L1519.0 1836.5M1530.3 1836.5L1531.9 1760.7L1533.9 1703.4L1536.0 1669.1L1536.9 1661.0L1538.0 1657.8L1538.6 1658.4L1539.1 1660.6L1540.2 1669.8L1542.2 1703.7L1544.0 1761.1L1545.6 1836.5M1555.0 1836.5L1556.7 1744.8L1558.6 1680.5L1560.7 1637.9L1561.8 1627.8L1562.4 1625.4L1562.9 1624.7L1564.0 1628.5L1565.1 1639.5L1567.0 1679.9L1568.9 1748.7L1570.4 1836.5M1578.3 1836.5L1579.8 1733.1L1581.8 1652.3L1583.9 1604.5L1584.9 1591.8L1585.5 1588.4L1586.1 1586.9L1586.7 1587.8L1587.2 1590.7L1588.3 1602.5L1590.4 1650.5L1592.2 1730.8L1593.7 1836.5M1600.3 1836.5L1601.9 1711.2L1603.7 1622.2L1605.9 1563.9L1607.1 1548.4L1607.6 1544.8L1608.3 1543.4L1608.9 1545.1L1609.5 1548.9L1610.6 1563.4L1612.6 1620.5L1614.4 1709.8L1615.9 1836.5M1621.3 1836.5L1622.7 1695.2L1624.7 1584.2L1627.0 1515.1L1628.2 1498.0L1628.7 1494.0L1629.4 1492.3L1630.0 1494.1L1630.6 1498.2L1631.8 1516.3L1633.8 1582.1L1635.6 1687.1L1637.0 1836.5M1641.3 1836.5L1642.8 1664.3L1644.7 1542.1L1647.1 1458.5L1648.3 1438.5L1648.9 1433.0L1649.6 1431.2L1650.2 1433.0L1650.8 1437.5L1652.0 1457.2L1654.1 1535.5L1655.9 1659.8L1657.2 1836.5M1660.6 1836.5L1662.1 1633.0L1663.9 1488.7L1666.3 1391.1L1667.6 1365.4L1668.2 1358.7L1669.0 1355.9L1669.7 1357.8L1670.3 1363.9L1671.6 1389.4L1673.8 1483.2L1675.5 1638.2L1676.7 1836.5M1679.2 1836.5L1680.5 1599.8L1682.5 1416.8L1685.0 1301.0L1686.4 1270.0L1687.0 1262.7L1687.8 1259.6L1688.4 1261.5L1689.1 1267.9L1690.4 1295.4L1691.6 1341.4L1692.7 1407.0L1694.3 1580.8L1695.4 1836.5M1697.2 1836.5L1698.4 1540.8L1700.4 1320.9L1701.7 1236.8L1703.1 1177.1L1704.6 1140.3L1705.4 1131.3L1706.1 1128.5L1706.9 1131.9L1707.6 1140.2L1709.0 1177.4L1711.1 1310.3L1712.7 1526.0L1713.6 1836.5M1714.7 1836.5L1715.7 1467.1L1717.7 1185.3L1719.1 1074.7L1720.6 997.0L1722.3 945.2L1723.3 930.8L1724.2 926.9L1724.9 930.7L1725.7 941.9L1727.1 987.0L1728.2 1051.8L1729.2 1148.6L1730.5 1419.2L1731.1 1836.5M1731.6 1836.5L1732.9 1202.8L1734.2 963.0L1735.9 772.7L1738.4 600.4L1741.6 466.6L1743.3 418.7L1745.0 385.3L1746.9 364.2L1747.7 359.2L1748.7 357.3L1749.6 358.8L1750.5 363.5L1752.2 382.8L1753.8 413.8L1755.5 459.2L1758.3 582.4L1760.6 748.3L1762.2 944.3L1763.3 1170.4L1764.4 1836.5M1764.7 1836.5L1765.3 1372.3L1766.5 1081.2L1767.5 968.3L1768.7 887.3L1770.1 836.5L1770.9 823.4L1771.7 818.3L1772.6 823.1L1773.5 837.4L1775.1 892.0L1776.6 984.0L1777.8 1100.2L1779.5 1409.7L1780.2 1836.5M1780.9 1836.5L1781.6 1434.0L1783.0 1164.4L1784.1 1060.3L1785.3 990.3L1786.7 945.4L1787.4 935.4L1788.1 931.4L1788.9 935.1L1789.7 946.8L1791.2 996.3L1792.5 1073.9L1793.6 1176.8L1795.1 1453.5L1795.9 1836.5M1796.6 1836.5L1797.4 1468.3L1798.9 1189.0L1800.0 1087.8L1801.2 1018.0L1802.6 972.3L1803.2 961.9L1804.0 957.5L1804.8 961.3L1805.4 971.1L1806.8 1015.9L1808.0 1085.4L1809.1 1187.6L1810.5 1443.3L1811.3 1836.5M1812.0 1836.5L1812.8 1455.7L1814.3 1168.3L1815.4 1062.6L1816.7 983.1L1818.1 935.2L1818.9 922.5L1819.6 918.2L1820.4 922.3L1821.2 935.2L1822.5 980.9L1823.7 1057.9L1824.6 1161.3L1825.9 1435.9L1826.6 1836.5M1827.2 1836.5L1828.0 1373.8L1829.5 1076.2L1830.7 955.2L1832.1 866.1L1833.7 812.2L1834.5 797.3L1835.3 793.1L1836.0 797.5L1836.8 811.3L1838.1 861.7L1839.2 940.8L1840.1 1047.3L1841.3 1369.0L1841.8 1836.5M1842.1 1836.5L1843.0 1176.1L1844.0 936.6L1845.5 727.2L1847.6 557.0L1850.2 427.5L1851.6 382.0L1853.1 348.0L1854.7 326.5L1855.5 321.3L1856.3 319.2L1857.2 320.9L1858.0 325.6L1859.6 346.0L1861.2 381.3L1862.8 429.4L1865.5 561.9L1867.6 735.4L1869.2 930.9L1870.3 1167.8L1871.3 1836.5M1871.7 1836.5L1872.2 1405.9L1873.3 1119.5L1875.1 942.4L1876.3 896.6L1877.0 884.8L1877.7 880.6L1878.5 885.7L1879.3 899.7L1880.8 955.4L1882.1 1038.2L1883.3 1156.3L1884.8 1432.8L1885.7 1836.5M1886.5 1836.5L1887.2 1500.6L1888.4 1278.3L1890.2 1131.8L1891.4 1091.6L1892.0 1082.8L1892.6 1079.0L1893.3 1082.1L1893.9 1092.1L1895.2 1133.5L1897.4 1284.3L1898.9 1509.7L1899.9 1836.5M1901.1 1836.5L1902.0 1563.6L1903.2 1381.7L1905.0 1252.6L1906.1 1219.5L1906.6 1211.5L1907.2 1208.7L1907.8 1211.7L1908.4 1219.6L1909.5 1250.5L1911.5 1379.0L1913.0 1578.9L1914.0 1836.5M1915.7 1836.5L1916.5 1619.3L1917.8 1449.0L1919.6 1341.7L1920.5 1314.4L1921.1 1307.1L1921.6 1304.9L1922.2 1307.6L1922.7 1315.4L1923.7 1342.3L1925.5 1449.0L1926.9 1611.0L1928.0 1836.5M1930.1 1836.5L1931.1 1639.8L1932.4 1497.5L1934.0 1410.0L1934.9 1388.5L1935.3 1383.0L1935.8 1380.9L1936.8 1389.7L1937.7 1411.8L1939.4 1503.4L1940.8 1650.0L1941.8 1836.5M1944.5 1836.5L1945.4 1669.3L1946.6 1550.6L1948.1 1471.8L1949.0 1450.6L1949.9 1443.3L1950.7 1449.3L1951.6 1468.7L1953.2 1547.0L1954.5 1666.4L1955.6 1836.5M1958.7 1836.5L1959.6 1692.8L1960.8 1586.8L1962.2 1520.3L1963.0 1502.8L1963.9 1496.1L1964.7 1502.7L1965.5 1519.6L1967.0 1589.4L1968.2 1690.4L1969.2 1836.5M1972.8 1836.5L1973.8 1713.0L1974.9 1617.7L1976.2 1562.0L1977.0 1546.3L1977.8 1541.5L1978.5 1547.0L1979.2 1560.1L1980.6 1618.0L1981.8 1708.6L1982.8 1836.5M1986.9 1836.5L1987.9 1721.4L1989.0 1645.2L1990.3 1595.9L1990.9 1584.6L1991.6 1581.2L1992.2 1585.5L1992.9 1597.6L1994.2 1647.5L1996.3 1836.5M2000.8 1836.5L2002.7 1675.7L2003.9 1631.4L2004.6 1619.9L2005.2 1616.4L2005.9 1620.6L2006.4 1630.1L2007.6 1672.0L2009.7 1836.5M2014.7 1836.5L2016.5 1698.9L2017.6 1661.4L2018.2 1651.8L2018.8 1647.8L2019.5 1651.6L2020.0 1660.8L2021.1 1697.1L2023.0 1836.5M2028.6 1836.5L2030.3 1716.6L2031.3 1686.7L2031.9 1678.6L2032.4 1676.1L2032.9 1679.1L2033.5 1687.6L2034.5 1717.8L2036.3 1836.5M2042.3 1836.5L2044.0 1734.5L2044.9 1710.6L2045.9 1701.8L2046.8 1711.0L2047.7 1734.9L2049.4 1836.5M2056.0 1836.5L2057.5 1756.4L2058.4 1733.2L2059.2 1725.2L2060.1 1731.5L2061.0 1752.6L2062.5 1836.5M2069.7 1836.5L2071.2 1767.7L2071.9 1751.5L2072.7 1746.7L2073.5 1752.9L2074.2 1770.5L2075.6 1836.5M2083.4 1836.5L2084.6 1783.5L2085.3 1770.7L2085.9 1766.4L2086.7 1771.6L2087.4 1785.1L2088.6 1836.5M2097.0 1836.5L2098.1 1797.2L2099.2 1784.6L2099.8 1788.0L2100.4 1797.2L2101.5 1836.5M2110.6 1836.5L2111.5 1811.7L2112.4 1801.4L2113.0 1803.7L2113.4 1809.7L2114.4 1836.5M2124.3 1836.5L2125.0 1821.4L2125.7 1817.0L2126.5 1822.3L2127.1 1836.5M2138.2 1836.5L2138.9 1831.5L2139.6 1836.5"/>
</g>
<rect x="261.5" y="1269.3" width="621.0" height="532.2" fill="#fff" stroke="#262626" stroke-width="3.1"/>
<g font-family="'Liberation Serif', 'Times New Roman', serif" font-size="60.5" fill="#000">
<path d="M273.9 1311.8H405" stroke="#0000ff" stroke-width="7.9" fill="none"/>
<text x="416.5" y="1327.4" textLength="347.3" lengthAdjust="spacingAndGlyphs" stroke="#000" stroke-width="1.2" stroke-linejoin="round">NF-Proposed</text>
<path d="M273.9 1386.2H405" stroke="#000000" stroke-width="7.9" fill="none"/>
<text x="416.5" y="1401.8" textLength="291.5" lengthAdjust="spacingAndGlyphs" stroke="#000" stroke-width="1.2" stroke-linejoin="round">NF-Comm.</text>
<text x="741.0" y="1401.8" textLength="127.0" lengthAdjust="spacingAndGlyphs" stroke="#000" stroke-width="1.2" stroke-linejoin="round">Only</text>
<path d="M273.9 1460.7H405" stroke="#ff0000" stroke-width="7.9" fill="none" stroke-dasharray="27.1 24.87"/>
<text x="416.5" y="1476.3" textLength="341.8" lengthAdjust="spacingAndGlyphs" stroke="#000" stroke-width="1.2" stroke-linejoin="round">FF-Proposed</text>
<path d="M273.9 1535.1H405" stroke="#77ac30" stroke-width="7.9" fill="none" stroke-dasharray="27.1 24.87"/>
<text x="416.5" y="1550.7" textLength="285.0" lengthAdjust="spacingAndGlyphs" stroke="#000" stroke-width="1.2" stroke-linejoin="round">FF-Comm.</text>
<text x="735.3" y="1550.7" textLength="126.5" lengthAdjust="spacingAndGlyphs" stroke="#000" stroke-width="1.2" stroke-linejoin="round">Only</text>
<circle cx="339.7" cy="1609.9" r="19" fill="#0000ff"/>
<text x="416.5" y="1625.1" textLength="168.5" lengthAdjust="spacingAndGlyphs" stroke="#000" stroke-width="1.2" stroke-linejoin="round">Target</text>
<text x="608.3" y="1625.1" textLength="30.0" lengthAdjust="spacingAndGlyphs" stroke="#000" stroke-width="1.2" stroke-linejoin="round">1</text>
<circle cx="339.7" cy="1684.4" r="19" fill="#ff0000"/>
<text x="416.5" y="1699.5" textLength="114.5" lengthAdjust="spacingAndGlyphs" stroke="#000" stroke-width="1.2" stroke-linejoin="round">User</text>
<text x="554.3" y="1699.5" textLength="30.0" lengthAdjust="spacingAndGlyphs" stroke="#000" stroke-width="1.2" stroke-linejoin="round">1</text>
<circle cx="339.7" cy="1758.8" r="19" fill="#00ff00"/>
<text x="416.5" y="1774.0" textLength="114.5" lengthAdjust="spacingAndGlyphs" stroke="#000" stroke-width="1.2" stroke-linejoin="round">User</text>
<text x="554.9" y="1774.0" textLength="30.25" lengthAdjust="spacingAndGlyphs" stroke="#000" stroke-width="1.2" stroke-linejoin="round">2</text>
</g>
<circle cx="553.5" cy="1836.5" r="19" fill="#0000ff"/>
<circle cx="879.3" cy="1836.5" r="19" fill="#ff0000"/>
<circle cx="1748.2" cy="1836.5" r="19" fill="#00ff00"/>
<g font-family="'Liberation Sans', Arial, Helvetica, sans-serif" font-size="62.5" fill="#262626">
<text transform="translate(335.8 1919.3) scale(0.985 1)" text-anchor="middle">-80</text>
<text transform="translate(553.0 1919.3) scale(0.985 1)" text-anchor="middle">-60</text>
<text transform="translate(770.2 1919.3) scale(0.985 1)" text-anchor="middle">-40</text>
<text transform="translate(987.4 1919.3) scale(0.985 1)" text-anchor="middle">-20</text>
<text transform="translate(1204.7 1919.3) scale(0.985 1)" text-anchor="middle">0</text>
<text transform="translate(1421.9 1919.3) scale(0.985 1)" text-anchor="middle">20</text>
<text transform="translate(1639.1 1919.3) scale(0.985 1)" text-anchor="middle">40</text>
<text transform="translate(1856.3 1919.3) scale(0.985 1)" text-anchor="middle">60</text>
<text transform="translate(2073.5 1919.3) scale(0.985 1)" text-anchor="middle">80</text>
<text transform="translate(205.9 71.8) scale(0.985 1)" text-anchor="end">5</text>
<text transform="translate(205.9 270.5) scale(0.985 1)" text-anchor="end">0</text>
<text transform="translate(205.9 469.2) scale(0.985 1)" text-anchor="end">-5</text>
<text transform="translate(205.9 667.8) scale(0.985 1)" text-anchor="end">-10</text>
<text transform="translate(205.9 866.5) scale(0.985 1)" text-anchor="end">-15</text>
<text transform="translate(205.9 1065.2) scale(0.985 1)" text-anchor="end">-20</text>
<text transform="translate(205.9 1263.9) scale(0.985 1)" text-anchor="end">-25</text>
<text transform="translate(205.9 1462.5) scale(0.985 1)" text-anchor="end">-30</text>
<text transform="translate(205.9 1661.2) scale(0.985 1)" text-anchor="end">-35</text>
<text transform="translate(205.9 1859.9) scale(0.985 1)" text-anchor="end">-40</text>
</g>
<g font-family="'Liberation Serif', 'Times New Roman', serif" font-size="77.0" fill="#262626" stroke="#262626" stroke-width="1.2" stroke-linejoin="round">
<text x="1066" y="1997" textLength="272" lengthAdjust="spacingAndGlyphs">Angle (<tspan font-style="italic" font-size="54" dy="-27">o</tspan><tspan dy="27">)</tspan></text>
<text transform="translate(81.5 945) rotate(-90)" text-anchor="middle" textLength="708" lengthAdjust="spacingAndGlyphs">Beampattern gain (dB)</text>
</g>
</svg></body></html>
